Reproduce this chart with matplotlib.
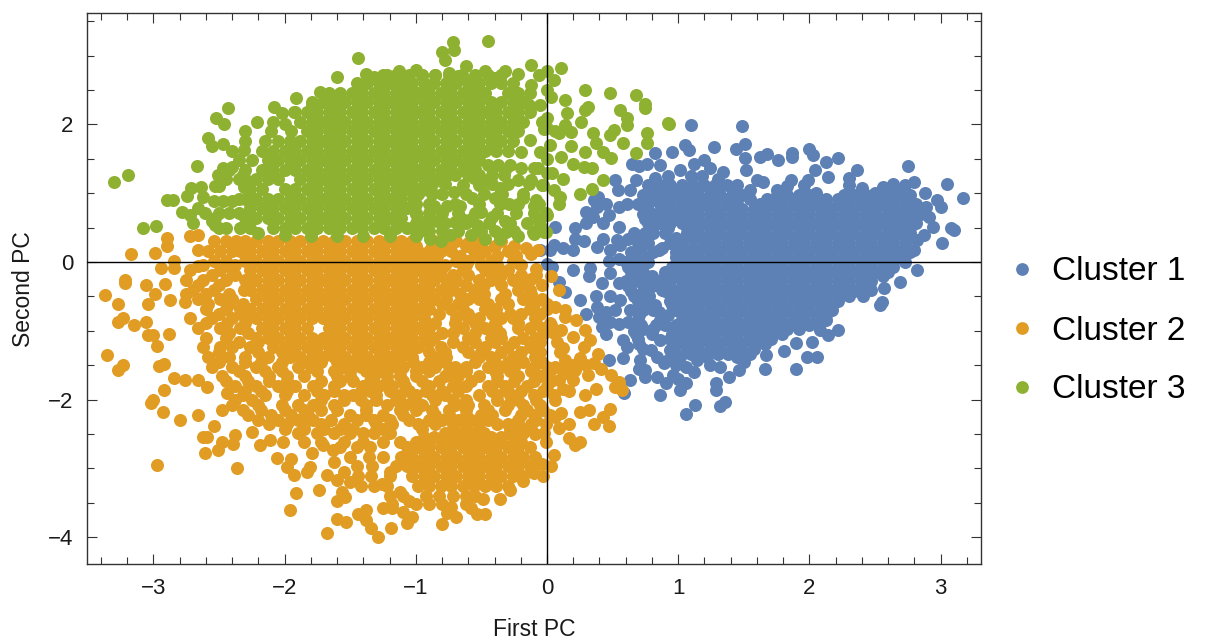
import matplotlib
matplotlib.use("Agg")
import matplotlib.pyplot as plt
from matplotlib.lines import Line2D
from matplotlib.ticker import FixedLocator

plt.rcParams['font.family'] = ['Liberation Sans', 'DejaVu Sans']

labels = ["Cluster 1", "Cluster 2", "Cluster 3"]
colors = ["#5E81B5", "#E19C24", "#8FB131"]
x_major = [-3, -2, -1, 0, 1, 2, 3]
y_major = [-4, -2, 0, 2]
x_label = "First PC"
y_label = "Second PC"

# Cluster 1: dense body, row by row (y, x values)
c1_rows = [
 (1.12, [.77,.86,.94,1.03,1.11,1.20,1.28,1.37,1.96,2.30,2.64,2.73]),
 (1.05, [.85,1.0,1.15,1.3,1.42,2.58,2.7]),
 (.98, [.73,.81,.90,.98,1.07,1.15,1.24,1.32,1.41,1.49,1.75,1.83,1.92,2.00,2.26,2.34,2.43,2.51,2.60,2.68,2.77]),
 (.91, [.75,.85,.94,1.03,1.11,1.2,1.28,1.37,1.45,1.55,1.68,1.79,1.88,1.96,2.05,2.13,2.22,2.3,2.39,2.47,2.56,2.64,2.73]),
 (.84, [.69,.77,.86,.94,1.03,1.11,1.20,1.28,1.37,1.45,1.62,1.71,1.79,1.88,1.96,2.05,2.13,2.22,2.30,2.39,2.47,2.56,2.64,2.73,2.81]),
 (.77, [.75,.88,.98,1.07,1.15,1.24,1.32,1.41,1.49,1.58,1.66,1.75,1.83,1.92,2.0,2.09,2.17,2.26,2.34,2.43,2.51,2.6,2.68,2.77]),
 (.70, [.73,.81,.90,.98,1.07,1.15,1.24,1.32,1.41,1.49,1.58,1.66,1.75,1.83,1.92,2.00,2.09,2.17,2.26,2.34,2.43,2.51,2.60,2.68,2.77,2.85]),
 (.63, [.75,.84,.98,1.07,1.15,1.24,1.32,1.41,1.49,1.58,1.66,1.75,1.83,1.92,2.0,2.09,2.17,2.26,2.34,2.43,2.51,2.6,2.68,2.77]),
 (.56, [.77,.86,.94,1.03,1.11,1.20,1.28,1.37,1.45,1.54,1.62,1.71,1.79,1.88,1.96,2.05,2.13,2.22,2.30,2.39,2.47,2.56,2.64,2.73,2.81]),
 (.49, [.8,.92,1.07,1.15,1.24,1.32,1.41,1.49,1.58,1.66,1.75,1.83,1.92,2.0,2.09,2.17,2.26,2.34,2.43,2.51,2.6,2.68,2.77]),
 (.42, [.81,.90,1.07,1.15,1.24,1.32,1.41,1.49,1.58,1.66,1.75,1.83,1.92,2.00,2.09,2.17,2.26,2.34,2.43,2.51,2.60,2.68,2.77]),
 (.35, [.72,.98,1.11,1.2,1.28,1.37,1.45,1.54,1.62,1.71,1.79,1.88,1.96,2.05,2.13,2.22,2.3,2.39,2.47,2.56,2.64,2.73]),
 (.28, [.69,.77,.94,1.03,1.20,1.28,1.37,1.45,1.54,1.62,1.71,1.79,1.88,1.96,2.05,2.13,2.22,2.30,2.39,2.47,2.56,2.64,2.73]),
 (.21, [.72,.88,1.0,1.11,1.2,1.28,1.37,1.45,1.54,1.62,1.71,1.79,1.88,1.96,2.05,2.13,2.22,2.3,2.39,2.47,2.56,2.64,2.73]),
 (.14, [.64,.81,.98,1.07,1.15,1.24,1.32,1.41,1.49,1.58,1.66,1.75,1.83,1.92,2.00,2.09,2.17,2.26,2.34,2.43,2.51,2.60,2.68,2.77]),
 (.07, [.66,.75,.98,1.07,1.15,1.24,1.32,1.41,1.49,1.58,1.66,1.75,1.83,1.92,2.0,2.09,2.17,2.26,2.34,2.43,2.51,2.6,2.68]),
 (0.0, [.60,.69,.77,1.03,1.11,1.20,1.28,1.37,1.45,1.54,1.62,1.71,1.79,1.88,1.96,2.05,2.13,2.22,2.30,2.39,2.47,2.56,2.64,2.73]),
 (-.07, [.62,.72,.95,1.03,1.11,1.2,1.28,1.37,1.45,1.54,1.62,1.71,1.79,1.88,1.96,2.05,2.13,2.22,2.3,2.39,2.47,2.56,2.64]),
 (-.14, [.64,.73,.90,.98,1.07,1.15,1.24,1.32,1.41,1.49,1.58,1.66,1.75,1.83,1.92,2.00,2.09,2.17,2.26,2.34,2.43,2.51,2.60]),
 (-.21, [.66,.8,.9,1.0,1.11,1.2,1.28,1.37,1.45,1.54,1.62,1.71,1.79,1.88,1.96,2.05,2.13,2.22,2.3,2.39,2.47,2.56]),
 (-.28, [.60,.69,.77,.86,.94,1.03,1.11,1.20,1.28,1.37,1.45,1.54,1.62,1.71,1.79,1.88,1.96,2.05,2.13,2.22,2.30,2.39,2.47]),
 (-.35, [.62,.8,.92,1.03,1.11,1.2,1.28,1.37,1.45,1.54,1.62,1.71,1.79,1.88,1.96,2.05,2.13,2.22,2.3,2.39]),
 (-.42, [.64,.73,.90,.98,1.07,1.15,1.24,1.32,1.41,1.49,1.58,1.66,1.75,1.83,1.92,2.00,2.09,2.17,2.26,2.34]),
 (-.49, [.66,.78,.95,1.03,1.11,1.2,1.28,1.37,1.45,1.54,1.62,1.71,1.79,1.88,1.96,2.05,2.13,2.22,2.3]),
 (-.56, [.69,.77,.94,1.03,1.11,1.20,1.28,1.37,1.45,1.54,1.62,1.71,1.79,1.88,1.96,2.05,2.13,2.22]),
 (-.63, [.7,.82,.95,1.07,1.15,1.24,1.32,1.41,1.49,1.58,1.66,1.75,1.83,1.92,2.0,2.09,2.17]),
 (-.70, [.73,.81,.98,1.07,1.15,1.24,1.32,1.41,1.49,1.58,1.66,1.75,1.83,1.92,2.00,2.09,2.17]),
 (-.77, [.7,.92,1.03,1.11,1.2,1.28,1.37,1.45,1.54,1.62,1.71,1.79,1.88,1.96,2.05,2.13]),
 (-.84, [.69,.86,1.03,1.11,1.20,1.28,1.37,1.45,1.54,1.62,1.71,1.79,1.88,1.96,2.05,2.13]),
 (-.91, [.72,.9,.98,1.07,1.15,1.24,1.32,1.41,1.49,1.58,1.66,1.75,1.83,1.92,2.0]),
 (-.98, [.73,.81,.98,1.07,1.15,1.24,1.32,1.41,1.49,1.58,1.66,1.75,1.83,1.92]),
 (-1.05, [.68,.8,.95,1.03,1.11,1.2,1.28,1.37,1.45,1.54,1.62,1.71,1.79]),
 (-1.12, [.69,.94,1.03,1.11,1.20,1.28,1.37,1.45,1.54,1.62,1.71]),
 (-1.19, [.7,.98,1.07,1.15,1.24,1.32,1.41,1.49,1.58,1.66]),
 (-1.26, [.73,1.07,1.15,1.24,1.32,1.41,1.49,1.58]),
 (-1.33, [.98,1.1,1.2,1.3,1.38,1.55]),
]
# Cluster 1: scattered points around the body (x, y)
c1_edge = [(1.10,1.99),(1.49,1.98),(1.51,1.72),(1.44,1.65),(1.27,1.67),(1.05,1.70),(1.08,1.63),(.95,1.6),(.82,1.58),(.86,1.41),
 (.65,1.43),(.70,1.39),(.76,1.43),(1.51,1.51),(1.62,1.53),(1.68,1.57),(1.76,1.49),(1.87,1.58),(1.87,1.53),(2.0,1.65),(2.03,1.56),
 (2.22,1.51),(2.13,1.46),(2.04,1.34),(1.99,1.19),(2.14,1.24),(2.36,1.34),(2.30,1.22),(1.86,1.19),(2.75,1.40),(2.80,1.17),(3.05,1.13),
 (2.88,1.0),(3.17,.93),(2.97,.90),(3.0,.80),(2.89,.80),(2.91,.66),(2.94,.51),(3.08,.49),(3.10,.47),(2.87,.39),(3.01,.27),(2.80,.17),
 (2.82,.32),(2.82,-.12),(2.69,-.29),(2.57,-.38),(2.47,-.41),(2.54,-.63),(2.55,-.58),(2.41,-.50),(2.22,-.99),(2.14,-1.06),(2.08,-.99),
 (2.02,-1.16),(1.90,-1.18),(2.06,-1.38),(1.98,-1.38),(1.81,-1.29),(1.67,-1.35),(1.66,-1.56),(1.90,-1.55),(1.50,-1.45),(1.45,-1.38),
 (1.46,-1.57),(1.39,-1.67),(1.29,-1.76),(1.29,-1.86),(1.24,-1.5),(1.32,-1.52),(1.36,-2.03),(1.32,-2.09),(1.13,-2.08),(1.06,-2.21),
 (.86,-1.93),(1.01,-1.86),(1.06,-1.76),(.91,-1.76),(.96,-1.64),(.75,-1.57),(.75,-1.67),(.63,-1.72),(.59,-1.9),(.84,-1.67),(.89,-1.47),
 (1.06,-1.52),(1.01,-1.38),(.71,-1.42),(.58,-1.40),(.47,-1.42),(.58,-1.13),(.45,-1.04),(.48,-.87),(.61,-1.23),(.79,-1.28),(.86,-1.13),
 (.94,-1.28),(.84,-1.38),(.62,-.87),(.63,-.70),(.56,-.55),(.30,-.75),(.25,-.55),(.37,-.50),(.48,-.50),(.14,-.43),(.09,-.29),(.04,-.07),
 (.2,-.12),(.32,-.21),(.48,-.16),(.33,-.09),(-.05,.18),(.05,.25),(.12,.2),(.2,.17),(.28,.3),(.38,.22),(.48,.17),(.56,.25),(.06,.51),
 (.21,.49),(.21,.34),(.55,.51),(.30,.73),(.38,.8),(.47,.68),(.43,.56),(.3,.56),(.39,.95),(.52,1.19),(.54,1.05),(.66,.42),(.62,.34),
 (.53,.32),(.43,.34),(.61,.85),(.63,1.05),(.68,1.19),(.36,.9),(.45,.85),(.35,.65),(.55,.8),(.0,-.03),(.02,.18),(.38,-.65),(.45,-.72),
 (.55,-.9),(.4,-.8),(.52,-.7),(.42,-.95),(.66,-1.0),(.7,-1.55),(.98,-1.5),(.92,-1.42),(1.14,-1.42),(1.22,-1.38),(1.12,-1.6),(1.0,-1.7),
 (1.01,1.34),(1.12,1.43),(1.2,1.48),(1.34,1.31),(1.24,1.36),(1.52,1.34),(1.6,1.19),(1.65,1.17),(2.56,1.09),(2.64,1.14),(1.45,1.12),
 (1.75,1.05),(1.83,1.1),(2.05,1.0),(2.4,1.08),(2.5,1.0),(.92,1.25),(1.1,1.25),(1.18,1.25),(1.3,1.2),(.82,1.22),(1.55,1.05),(.55,.05),
 (.47,.02),(.42,-.3),(.55,-.3),(.68,.12),(.72,-.55),(.85,-.72),(.83,-.92),(.88,-.4),(.75,.42),(.85,.18)]

# Cluster 2: dense body, row by row (y, x values)
c2_rows = [
 (.30, [-2.54,-2.45,-2.37,-2.30,-2.22,-2.13,-2.05,-1.96,-1.88,-1.79,-1.71,-1.62,-1.54,-1.45,-1.37,-1.28,-1.20,-1.11,-1.03,-.86,-.69,-.52,-.35]),
 (.23, [-1.0,-.88,-.76,-.62,-.5,-.4,-.25]),
 (.16, [-2.58,-2.49,-2.40,-2.34,-2.26,-2.17,-2.09,-2.00,-1.92,-1.83,-1.75,-1.66,-1.58,-1.49,-1.41,-1.32,-1.24,-1.15,-1.07,-.98,-.90,-.81,-.73,-.56,-.47,-.30]),
 (.09, [-.95,-.84,-.66,-.52,-.38,-.24]),
 (.02, [-2.84,-2.54,-2.45,-2.30,-2.22,-2.13,-2.05,-1.96,-1.88,-1.79,-1.71,-1.62,-1.54,-1.45,-1.37,-1.28,-1.20,-1.11,-1.03,-.94,-.86,-.69,-.60,-.43,-.26]),
 (-.05, [-2.62,-2.38,-.9,-.78,-.62,-.5,-.38,-.2]),
 (-.12, [-2.49,-2.40,-2.26,-2.17,-2.09,-2.00,-1.92,-1.83,-1.75,-1.66,-1.58,-1.49,-1.41,-1.32,-1.24,-1.15,-1.07,-.98,-.90,-.81,-.64,-.47,-.39,-.30]),
 (-.19, [-2.55,-2.38,-.85,-.72,-.6,-.35,-.2,-.08]),
 (-.26, [-2.75,-2.62,-2.45,-2.30,-2.22,-2.13,-2.05,-1.96,-1.88,-1.79,-1.71,-1.62,-1.54,-1.45,-1.37,-1.28,-1.20,-1.11,-1.03,-.94,-.86,-.77,-.69,-.52,-.43,-.26]),
 (-.33, [-2.66,-2.5,-.72,-.62,-.48,-.35,-.18,-.04]),
 (-.40, [-2.70,-2.54,-2.31,-2.26,-2.17,-2.09,-2.00,-1.92,-1.83,-1.75,-1.66,-1.58,-1.49,-1.41,-1.32,-1.24,-1.15,-1.07,-.98,-.90,-.81,-.73,-.56,-.22,-.13]),
 (-.47, [-2.75,-2.6,-2.42,-.66,-.48,-.32,-.12]),
 (-.54, [-2.66,-2.49,-2.40,-2.22,-2.13,-2.05,-1.96,-1.88,-1.79,-1.71,-1.62,-1.54,-1.45,-1.37,-1.28,-1.20,-1.11,-1.03,-.94,-.86,-.77,-.60,-.52,-.35,-.18,-.04]),
 (-.61, [-2.58,-2.42,-2.32,-.8,-.68,-.45,-.3,-.1,.0]),
 (-.68, [-2.60,-2.45,-2.34,-2.26,-2.17,-2.09,-2.00,-1.92,-1.83,-1.75,-1.66,-1.58,-1.49,-1.41,-1.32,-1.24,-1.15,-1.07,-.98,-.90,-.73,-.64,-.47,-.39,-.13,.0]),
 (-.75, [-2.5,-2.33,-.82,-.6,-.42,-.28,-.2,-.05]),
 (-.82, [-2.72,-2.55,-2.40,-2.30,-2.22,-2.13,-2.05,-1.96,-1.88,-1.79,-1.71,-1.62,-1.54,-1.45,-1.37,-1.28,-1.20,-1.11,-1.03,-.94,-.69,-.60,-.52,-.35,-.26,-.09]),
 (-.89, [-2.6,-2.44,-2.3,-.85,-.7,-.55,-.4,-.22,-.08,.02]),
 (-.96, [-2.66,-2.49,-2.34,-2.17,-2.09,-2.00,-1.92,-1.83,-1.66,-1.58,-1.49,-1.41,-1.32,-1.24,-1.15,-1.07,-.98,-.90,-.64,-.47,-.39,-.22,-.13,-.04]),
 (-1.03, [-2.42,-2.28,-.8,-.72,-.55,-.36,-.02,.05]),
 (-1.10, [-2.60,-2.45,-2.22,-2.13,-2.05,-1.96,-1.88,-1.79,-1.71,-1.62,-1.54,-1.45,-1.37,-1.28,-1.20,-1.11,-1.03,-.94,-.86,-.60,-.43,-.35,-.18,-.09]),
 (-1.17, [-2.35,-2.2,-.9,-.72,-.55,-.4,-.25,-.05,.08]),
 (-1.24, [-2.62,-2.49,-2.40,-2.26,-2.09,-2.00,-1.92,-1.83,-1.75,-1.66,-1.58,-1.49,-1.41,-1.32,-1.24,-1.15,-1.07,-.98,-.81,-.64,-.47,-.30,-.13]),
 (-1.31, [-2.5,-2.2,-2.02,-.9,-.78,-.6,-.5,-.35,-.2,-.05,.1]),
 (-1.38, [-2.58,-2.42,-2.30,-2.13,-1.96,-1.88,-1.79,-1.71,-1.62,-1.54,-1.45,-1.37,-1.28,-1.20,-1.11,-1.03,-.86,-.77,-.52,-.43,-.26,-.09]),
 (-1.45, [-2.5,-2.3,-2.18,-2.02,-1.85,-1.72,-1.6,-1.48,-1.36,-1.25,-1.15,-1.02,-.9,-.78,-.55,-.4,-.3,-.18,-.04]),
 (-1.52, [-2.55,-2.40,-2.22,-2.05,-1.90,-1.80,-1.55,-1.42,-1.30,-1.20,-1.10,-.95,-.85,-.70,-.62,-.45,-.35,-.25,-.10,.0]),
 (-1.59, [-2.35,-2.15,-2.02,-1.75,-1.62,-1.5,-1.38,-1.25,-1.12,-1.0,-.9,-.75,-.62,-.4,-.28,-.12,.02,.12]),
 (-1.66, [-2.48,-2.30,-2.12,-1.98,-1.85,-1.60,-1.50,-1.32,-1.22,-1.12,-1.0,-.78,-.68,-.52,-.38,-.22,-.05]),
 (-1.73, [-2.45,-2.28,-2.12,-1.98,-1.72,-1.58,-1.48,-1.35,-1.22,-1.1,-.95,-.82,-.7,-.58,-.38,-.25,-.1,.03]),
 (-1.80, [-2.38,-2.22,-2.05,-1.92,-1.78,-1.62,-1.40,-1.28,-1.18,-1.08,-.90,-.72,-.62,-.45,-.32,-.15,.0]),
 (-1.87, [-2.3,-2.18,-1.98,-1.75,-1.62,-1.42,-1.35,-1.2,-1.05,-.92,-.8,-.68,-.42,-.3,-.2,-.03]),
 (-1.94, [-2.32,-2.15,-2.0,-1.85,-1.7,-1.55,-1.48,-1.3,-1.12,-1.0,-.88,-.78,-.52,-.38,-.28,-.1,.05]),
 (-2.01, [-2.38,-2.25,-1.72,-1.55,-1.42,-1.3,-1.15,-1.02,-.85,-.72,-.62,-.38,-.22,-.08]),
 (-2.08, [-2.4,-2.2,-2.02,-1.9,-1.78,-1.62,-1.38,-1.22,-1.08,-.95,-.7,-.6,-.48,-.3,-.18,-.05]),
 (-2.15, [-2.32,-2.18,-2.0,-1.85,-1.72,-1.6,-1.38,-1.12,-1.0,-.88,-.75,-.62,-.45,-.32,-.15,-.03]),
 (-2.22, [-2.28,-2.1,-1.95,-1.82,-1.5,-1.38,-1.25,-1.1,-.85,-.75,-.62,-.5,-.42,-.2,-.1,.02]),
 (-2.29, [-2.2,-2.05,-1.9,-1.78,-1.65,-1.45,-1.32,-1.2,-1.05,-.9,-.8,-.68,-.58,-.45,-.22,-.08]),
 (-2.36, [-2.12,-1.98,-1.85,-1.72,-1.55,-1.3,-1.18,-.98,-.85,-.72,-.62,-.52,-.38,-.3,-.12]),
 (-2.43, [-2.0,-1.85,-1.7,-1.58,-1.48,-1.25,-.95,-.72,-.62,-.52,-.28,-.12]),
 (-2.48, [-1.9,-1.75,-1.62,-1.5,-1.4,-1.32,-1.2,-.78,-.68,-.58,-.48,-.28,-.18,-.02]),
 (-2.55, [-.94,-.86,-.77,-.69,-.60,-.52,-.43,-.35,-.26]),
 (-2.62, [-1.85,-1.72,-1.55,-1.4,-1.25,-1.12,-1.0,-.9,-.78,-.65,-.5,-.35,-.2]),
 (-2.69, [-1.58,-1.45,-1.35,-1.07,-.98,-.90,-.81,-.73,-.64,-.56,-.47,-.39,-.30,-.22,-.13]),
 (-2.83, [-1.5,-1.36,-1.25,-1.11,-1.03,-.94,-.86,-.77,-.69,-.60,-.52,-.43,-.35,-.26,-.18,-.09]),
 (-2.97, [-1.45,-1.33,-1.15,-1.07,-.98,-.90,-.81,-.73,-.64,-.56,-.47,-.39,-.30,-.22,-.13]),
 (-3.11, [-1.44,-1.34,-1.20,-1.03,-.94,-.86,-.77,-.69,-.60,-.52,-.43,-.35,-.26,-.18]),
 (-3.25, [-1.42,-1.32,-1.22,-.98,-.90,-.81,-.73,-.64,-.56,-.47,-.39,-.30]),
 (-3.40, [-1.20,-1.10,-.92,-.82,-.72,-.62,-.55]),
 (-3.52, [-1.18,-1.0,-.9,-.8,-.62]),
]
# Cluster 2: scattered points around the body (x, y)
c2_edge = [(-3.37,-.48),(-3.22,-.30),(-3.22,-.26),(-3.06,-.33),(-2.99,-.47),(-3.27,-.61),(-3.04,-.61),(-2.91,-.32),(-2.87,-.55),(-2.76,-.58),
 (-3.27,-.87),(-3.23,-.82),(-3.15,-.92),(-3.06,-.87),(-3.04,-1.06),(-3.0,-1.06),(-2.88,-1.05),(-2.97,-1.22),(-3.35,-1.35),(-3.27,-1.57),
 (-3.23,-1.5),(-2.96,-1.51),(-2.92,-1.48),(-2.92,-1.86),(-2.84,-1.69),(-2.76,-1.71),(-2.66,-1.72),(-2.59,-1.81),(-3.02,-2.05),(-3.0,-2.0),
 (-2.93,-2.18),(-2.80,-2.3),(-2.66,-2.22),(-2.62,-2.54),(-2.59,-2.54),(-2.54,-2.38),(-2.48,-2.15),(-2.44,-1.91),(-2.48,-2.61),(-2.51,-2.73),
 (-2.61,-2.78),(-2.38,-2.51),(-2.39,-2.64),(-2.97,-2.95),(-2.36,-3.0),(-2.25,-2.47),(-2.19,-2.66),(-2.11,-2.59),(-2.01,-2.61),(-2.06,-2.85),
 (-1.95,-2.86),(-1.98,-2.98),(-1.93,-3.1),(-1.83,-3.05),(-1.81,-2.98),(-1.68,-3.1),(-1.91,-3.36),(-1.74,-3.31),(-1.96,-3.6),(-1.6,-3.48),
 (-1.54,-3.42),(-1.56,-3.34),(-1.6,-3.17),(-1.79,-2.77),(-1.71,-2.66),(-1.63,-2.73),(-1.6,-3.73),(-1.53,-3.78),(-1.68,-3.94),(-1.44,-3.66),
 (-1.38,-3.6),(-1.38,-3.75),(-1.34,-3.87),(-1.29,-4.0),(-1.19,-3.86),(-1.07,-3.8),(-1.03,-3.7),(-1.1,-3.63),(-1.25,-3.58),(-1.18,-3.58),
 (-.8,-3.81),(-.76,-3.65),(-.69,-3.7),(-.73,-3.56),(-.58,-3.58),(-.53,-3.66),(-.47,-3.66),(-.49,-3.44),(-.36,-3.44),(-.28,-3.31),(-.18,-3.19),
 (-.1,-3.07),(-.03,-3.11),(.03,-2.97),(-.04,-2.93),(.05,-2.8),(-.01,-2.61),(-.01,-2.35),(-.09,-2.5),(-.21,-2.39),(.09,-2.42),(.17,-2.56),
 (.21,-2.66),(.25,-2.61),(.36,-2.36),(.47,-2.39),(.43,-2.25),(.48,-2.13),(.25,-2.18),(.32,-2.15),(.29,-1.93),(.37,-1.84),(.17,-1.88),(.09,-1.71),
 (.2,-1.71),(.31,-1.64),(.41,-1.55),(.49,-1.64),(.55,-1.74),(.57,-1.86),(.52,-1.81),(.39,-1.33),(.33,-1.13),(.29,-.99),(.22,-.84),(.14,-.7),
 (.09,-.41),(.06,-1.52),(.14,-1.42),(.25,-1.4),(.36,-1.47),(.28,-1.23),(.2,-1.09),(.11,-.99),(.03,-.92),(.14,-.8),(.06,-.65),(.21,-1.57),(.06,-2.0),
 (.11,-2.2),(.17,-2.35),(.06,-2.25),(-3.17,.12),(-2.99,.13),(-2.90,.35),(-2.90,.23),(-2.72,.38),(-2.66,.39),(-2.66,.17),(-2.94,-.09),(-2.84,-.09),
 (-2.66,-.06),(-2.72,-.12),(-.16,.2),(-.12,.12),(-.07,.17),(-.22,-.02),(-.6,.28),(-.08,-.1),(-.12,-.25),(.03,-.2),
 (-1.12,-3.35),(-1.05,-3.47),(-1.2,-3.05),(-1.26,-3.22),(-1.62,-2.9),(-1.55,-3.05),(-1.5,-3.2),(.12,-1.25),(.2,-1.5),(.3,-1.5),(.15,-1.62),(.12,-1.85)]

# Cluster 3: dense body, row by row (y, x values)
c3_rows = [
 (2.72, [-1.25,-1.15,-1.05,-.95,-.85,-.75,-.65,-.55,-.45,-.35]),
 (2.60, [-1.45,-1.37,-1.28,-1.20,-1.11,-1.03,-.94,-.86,-.77,-.69,-.60,-.52,-.43,-.35,-.26]),
 (2.46, [-1.66,-1.58,-1.49,-1.41,-1.32,-1.24,-1.15,-1.07,-.98,-.90,-.81,-.73,-.64,-.56,-.47,-.30,-.22,-.13]),
 (2.32, [-1.79,-1.71,-1.62,-1.54,-1.45,-1.37,-1.28,-1.20,-1.11,-1.03,-.94,-.86,-.77,-.69,-.60,-.52,-.43,-.35,-.26,-.18]),
 (2.18, [-1.92,-1.83,-1.75,-1.66,-1.58,-1.49,-1.41,-1.32,-1.24,-1.15,-1.07,-.98,-.90,-.81,-.73,-.64,-.56,-.47,-.39,-.30,-.22,-.13]),
 (2.04, [-1.88,-1.79,-1.71,-1.62,-1.54,-1.45,-1.37,-1.28,-1.20,-1.11,-1.03,-.94,-.86,-.77,-.69,-.60,-.52,-.43,-.35,-.26,-.18]),
 (1.90, [-2.3,-2.1,-1.95,-1.83,-1.75,-1.66,-1.58,-1.49,-1.41,-1.32,-1.24,-1.15,-1.07,-.98,-.90,-.81,-.73,-.64,-.56,-.47,-.39,-.30,-.22]),
 (1.76, [-2.3,-2.15,-2.05,-1.96,-1.88,-1.79,-1.71,-1.62,-1.54,-1.45,-1.37,-1.28,-1.20,-1.11,-1.03,-.94,-.86,-.77,-.69,-.60,-.52,-.43,-.35,-.26]),
 (1.62, [-2.17,-2.09,-2.00,-1.92,-1.83,-1.75,-1.66,-1.58,-1.49,-1.41,-1.32,-1.24,-1.15,-1.07,-.98,-.90,-.81,-.73,-.64,-.56,-.47,-.39,-.30]),
 (1.48, [-2.35,-2.25,-2.13,-2.05,-1.96,-1.88,-1.79,-1.71,-1.62,-1.54,-1.45,-1.37,-1.28,-1.20,-1.11,-1.03,-.94,-.86,-.77,-.69,-.60,-.52]),
 (1.41, [-.45,-.37,-.28]),
 (1.34, [-2.42,-2.3,-2.17,-2.09,-2.00,-1.92,-1.83,-1.75,-1.66,-1.58,-1.49,-1.41,-1.32,-1.24,-1.15,-1.07,-.98,-.90,-.81,-.73,-.64]),
 (1.27, [-.7,-.6,-.52,-.42,-.33]),
 (1.20, [-2.45,-2.35,-2.3,-2.22,-2.13,-2.05,-1.88,-1.79,-1.71,-1.62,-1.54,-1.45,-1.37,-1.28,-1.20,-1.11,-1.03,-.94,-.86]),
 (1.13, [-.88,-.78,-.42,-.3,-.14]),
 (1.06, [-2.26,-2.17,-2.00,-1.92,-1.83,-1.75,-1.66,-1.58,-1.49,-1.41,-1.32,-1.24,-1.15,-1.07,-.98]),
 (.99, [-.98,-.88,-.8,-.62,-.48,-.34,-.18]),
 (.92, [-2.35,-2.3,-2.22,-2.13,-2.05,-1.96,-1.88,-1.79,-1.71,-1.62,-1.54,-1.45,-1.37,-1.28,-1.20,-1.11]),
 (.85, [-1.0,-.9,-.7,-.52,-.36,-.22,-.06]),
 (.78, [-2.26,-2.17,-2.09,-2.00,-1.92,-1.83,-1.75,-1.66,-1.58,-1.49,-1.41,-1.32,-1.24,-1.15,-1.07]),
 (.71, [-2.5,-2.42,-2.35,-1.0,-.9,-.8,-.68,-.55,-.38,-.24,-.1]),
 (.64, [-2.30,-2.22,-2.13,-2.05,-1.96,-1.88,-1.79,-1.71,-1.62,-1.54,-1.45,-1.37,-1.28,-1.20,-1.11]),
 (.57, [-1.0,-.9,-.78,-.62,-.44,-.28,-.15]),
 (.50, [-2.45,-2.34,-2.26,-2.09,-2.00,-1.92,-1.83,-1.75,-1.66,-1.58,-1.49,-1.41,-1.32,-1.24,-1.15,-1.07,-.98]),
 (.45, [-.92,-.8,-.68,-.5,-.4,-.25]),
]
# Cluster 3: scattered points around the body (x, y)
c3_edge = [(-3.30,1.17),(-3.19,1.27),(-3.08,.49),(-2.98,.53),(-2.90,.90),(-2.85,.90),(-2.78,.73),(-2.74,.96),(-2.71,1.07),(-2.64,1.09),
 (-2.67,1.40),(-2.70,.56),(-2.72,.68),(-2.66,.78),(-2.61,.71),(-2.53,.54),(-2.50,.49),(-2.55,.59),(-2.53,.64),(-2.62,.95),(-2.54,.88),(-2.47,.88),
 (-2.40,.88),(-2.53,1.10),(-2.51,1.27),(-2.47,1.36),(-2.40,1.38),(-2.50,1.10),(-2.55,1.68),(-2.58,1.81),(-2.47,1.72),(-2.40,1.62),(-2.52,2.09),
 (-2.46,2.0),(-2.43,2.24),(-2.31,1.63),(-2.32,1.27),(-2.31,1.09),(-2.21,2.04),(-2.09,2.03),(-2.08,2.26),(-2.02,2.16),(-2.0,2.0),(-1.91,2.38),
 (-1.93,2.18),(-1.79,2.28),(-1.73,2.47),(-1.60,2.69),(-1.44,2.96),(-1.38,2.74),(-1.44,2.57),(-1.32,2.69),(-1.22,2.72),(-1.13,2.77),(-1.0,2.79),
 (-.8,3.05),(-.72,3.2),(-.71,3.08),(-.78,2.93),(-.45,3.22),(-.62,2.85),(-.47,2.78),(-.32,2.78),(-.22,2.74),(-.12,2.86),(-.06,2.72),(0.0,2.77),
 (-1.08,2.7),(-.95,2.72),(-.85,2.72),(-.75,2.75),(-.68,2.7),(-.55,2.7),(-.4,2.68),
 (.11,2.82),(.29,2.5),(.48,2.46),(.68,2.43),(.75,2.24),(.92,2.02),(.61,2.09),(.14,2.35),(.29,2.21),(.14,1.99),(.31,2.25),(.75,2.3),(.56,2.21),
 (.61,1.99),(.93,2.01),(.15,2.16),(.26,2.04),(.18,1.89),(.09,1.87),(.35,1.87),(.48,1.85),(.51,1.92),(.76,1.87),(.76,1.73),(.58,1.73),(.37,1.73),
 (.43,1.60),(.49,1.51),(.68,1.58),(.29,1.60),(.18,1.68),(.11,1.53),(.2,1.43),(.28,1.38),(.34,1.36),(-.07,1.36),(.04,1.30),(.12,1.21),(.43,1.19),
 (.34,1.06),(.25,.99),(.1,.95),(.09,.85),(.05,1.05),(-.08,.9),(-.03,1.12),(-.01,.71),(-.05,.54),(-.01,.43),(-.1,.41),
 (.0,2.1),(.03,2.4),(.05,2.65),(.0,1.95),(.02,1.7),(.0,1.5),(.06,1.9),
 (-.79,1.17),(-.71,1.02),(-.64,1.12),(-.57,.93),(-.52,1.12),(-.45,1.17),(-.36,1.07),(-.40,.93),(-.29,.84),(-.32,1.34),(-.2,1.6),(-.2,1.36),
 (-.22,1.19),(-.12,1.19),(-.04,1.12),(-.18,.93),(-.10,.81),(-.0,.68),(-.06,.59),(-.11,.44),(-.02,.44),(-.76,.82),(-.66,.82),(-.58,.63),(-.5,.73),
 (-.42,.65),(-.32,.59),(-.53,.54),(-.58,.39),(-.47,.34),(-.36,.34),(-.22,.38),(-.31,.44),(-.74,.39),(-.84,.59),(-.89,.34),(-.81,.30),(-1.02,.93),
 (-.86,.82),(-.94,1.2),(-.65,.63),(-.70,.58),(-.56,1.22),(-.76,1.27),(-.13,1.77),(-.05,1.6),(-.1,1.36),(.0,1.29),(-.02,1.94),(-.05,2.28),(0.0,2.5),
 (-.12,2.57),(-.04,2.04),(-.14,2.28),(-.92,.6),(-1.0,.7),(-.98,.45),(-.95,1.05),(-.88,1.0),(-.62,1.42),(-.55,1.35),(-.9,.45),(-1.0,.38),
 (-1.2,.38),(-1.4,.38),(-1.6,.38),(-1.8,.38),(-2.0,.4),(-2.2,.42)]


def unpack(rows, edge):
    xs, ys = [], []
    for y, row in rows:
        xs.extend(row)
        ys.extend([y] * len(row))
    for x, y in edge:
        xs.append(x)
        ys.append(y)
    return xs, ys


fig = plt.figure(figsize=(12.05, 6.44), dpi=100)
ax = fig.add_axes([87 / 1205, 1 - 564 / 644, (981 - 87) / 1205, (564 - 13) / 644])

series = [(c1_rows, c1_edge), (c2_rows, c2_edge), (c3_rows, c3_edge)]
for (rows, edge), color in zip(series, colors):
    xs, ys = unpack(rows, edge)
    ax.scatter(xs, ys, s=88, c=color, linewidths=0, zorder=2)

ax.axhline(0, color="black", lw=1.0, zorder=3)
ax.axvline(0, color="black", lw=1.0, zorder=3)

ax.set_xlim(-3.506, 3.308)
ax.set_ylim(-4.39, 3.62)
ax.set_xticks(x_major)
ax.set_yticks(y_major)
ax.set_xticklabels(["\u2212%d" % -v if v < 0 else str(v) for v in x_major])
ax.set_yticklabels(["\u2212%d" % -v if v < 0 else str(v) for v in y_major])
ax.xaxis.set_minor_locator(FixedLocator([i * 0.2 for i in range(-17, 17)]))
ax.yaxis.set_minor_locator(FixedLocator([i * 0.5 for i in range(-8, 8)]))
ax.tick_params(which="major", direction="in", length=7.2, width=0.8, color="#333333",
               top=True, right=True, labelsize=16, pad=10, labelcolor="#1a1a1a")
ax.tick_params(which="minor", direction="in", length=5.0, width=0.8, color="#333333",
               top=True, right=True)
for spine in ax.spines.values():
    spine.set_color("#333333")
    spine.set_linewidth(1.0)

fig.text(534 / 1205, 1 - 630 / 644, x_label, ha="center", va="center", fontsize=16.5, color="#1a1a1a")
fig.text(23 / 1205, 1 - 289 / 644, y_label, ha="center", va="center", rotation=90, fontsize=16.5, color="#1a1a1a")

handles = [Line2D([], [], linestyle="none", marker="o", markersize=9.2, markeredgewidth=0, color=c) for c in colors]
fig.legend(handles, labels, loc="center left", bbox_to_anchor=(1005 / 1205, 1 - 331 / 644), frameon=False,
           fontsize=24, labelspacing=0.84, handletextpad=0.41, handlelength=1.0, borderpad=0, borderaxespad=0)

fig.savefig("out.png", dpi=100)
